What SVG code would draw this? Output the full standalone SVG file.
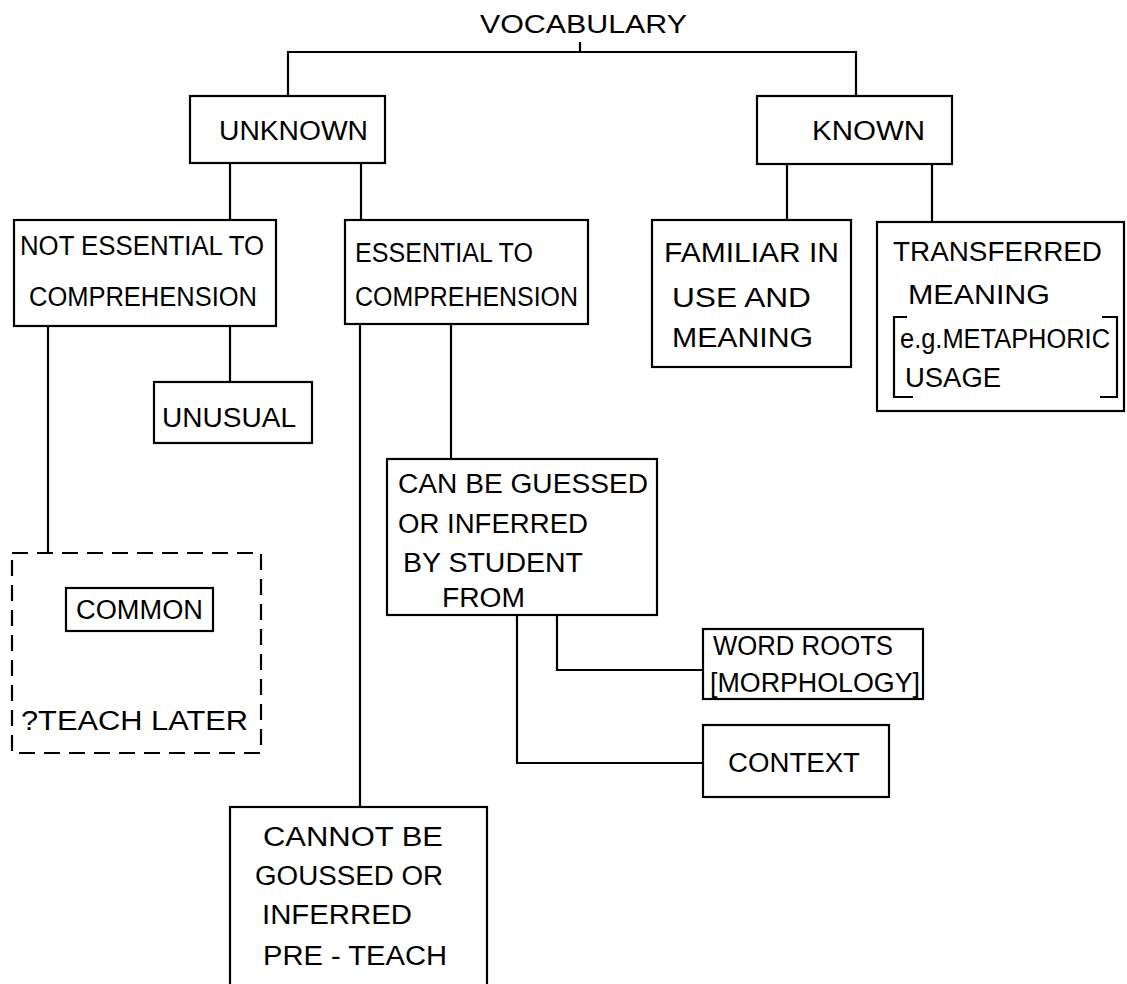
<svg xmlns="http://www.w3.org/2000/svg" width="1127" height="984" viewBox="0 0 1127 984">
<style>
  .bx{fill:none;stroke:#000;stroke-width:2.2}
  .dash{fill:none;stroke:#000;stroke-width:2.2;stroke-dasharray:16 9}
  .ln{fill:none;stroke:#000;stroke-width:2.2}
  text{font-family:"Liberation Sans",Arial,sans-serif;font-size:27px;fill:#000}
  .sm{font-size:25px}
</style>
<rect x="0" y="0" width="1127" height="984" fill="#fff"/>
<g id="connectors">
  <path class="ln" d="M580,42 V52"/>
  <path class="ln" d="M288,96 V52 H856 V96"/>
  <path class="ln" d="M230,163 V220"/>
  <path class="ln" d="M361,163 V220"/>
  <path class="ln" d="M787,164 V220"/>
  <path class="ln" d="M932,164 V222"/>
  <path class="ln" d="M48,326 V553"/>
  <path class="ln" d="M230,326 V382"/>
  <path class="ln" d="M360,324 V807"/>
  <path class="ln" d="M451,324 V459"/>
  <path class="ln" d="M517,615 V763 H703"/>
  <path class="ln" d="M557,615 V670 H703"/>
</g>
<g id="vocabulary">
  <text class="sm" x="480" y="33" textLength="207" lengthAdjust="spacingAndGlyphs">VOCABULARY</text>
</g>
<g id="unknown">
  <rect class="bx" x="190" y="96" width="195" height="67"/>
  <text x="219" y="140" textLength="149" lengthAdjust="spacingAndGlyphs">UNKNOWN</text>
</g>
<g id="known">
  <rect class="bx" x="757" y="96" width="195" height="68"/>
  <text x="812" y="140" textLength="113" lengthAdjust="spacingAndGlyphs">KNOWN</text>
</g>
<g id="not-essential">
  <rect class="bx" x="14" y="220" width="262" height="106"/>
  <text x="20" y="255" textLength="244" lengthAdjust="spacingAndGlyphs">NOT ESSENTIAL TO</text>
  <text x="29" y="306" textLength="228" lengthAdjust="spacingAndGlyphs">COMPREHENSION</text>
</g>
<g id="essential">
  <rect class="bx" x="345" y="220" width="243" height="104"/>
  <text x="355" y="262" textLength="178" lengthAdjust="spacingAndGlyphs">ESSENTIAL TO</text>
  <text x="355" y="306" textLength="223" lengthAdjust="spacingAndGlyphs">COMPREHENSION</text>
</g>
<g id="unusual">
  <rect class="bx" x="154" y="382" width="158" height="61"/>
  <text x="162" y="427" textLength="134" lengthAdjust="spacingAndGlyphs">UNUSUAL</text>
</g>
<g id="familiar">
  <rect class="bx" x="652" y="220" width="199" height="147"/>
  <text x="664" y="262" textLength="175" lengthAdjust="spacingAndGlyphs">FAMILIAR IN</text>
  <text x="672" y="307" textLength="139" lengthAdjust="spacingAndGlyphs">USE  AND</text>
  <text x="672" y="347" textLength="141" lengthAdjust="spacingAndGlyphs">MEANING</text>
</g>
<g id="transferred">
  <rect class="bx" x="877" y="222" width="247" height="189"/>
  <text x="893" y="261" textLength="209" lengthAdjust="spacingAndGlyphs">TRANSFERRED</text>
  <text x="908" y="304" textLength="142" lengthAdjust="spacingAndGlyphs">MEANING</text>
  <path class="ln" d="M907,317 H894 V397 H913"/>
  <path class="ln" d="M1102,317 H1117 V397 H1100"/>
  <text x="900" y="348" textLength="210" lengthAdjust="spacingAndGlyphs">e.g.METAPHORIC</text>
  <text x="905" y="387" textLength="96" lengthAdjust="spacingAndGlyphs">USAGE</text>
</g>
<g id="can-be-guessed">
  <rect class="bx" x="387" y="459" width="270" height="156"/>
  <text x="398" y="493" textLength="250" lengthAdjust="spacingAndGlyphs">CAN BE GUESSED</text>
  <text x="398" y="533" textLength="190" lengthAdjust="spacingAndGlyphs">OR INFERRED</text>
  <text x="403" y="572" textLength="180" lengthAdjust="spacingAndGlyphs">BY STUDENT</text>
  <text x="442" y="607" textLength="83" lengthAdjust="spacingAndGlyphs">FROM</text>
</g>
<g id="teach-later">
  <rect class="dash" x="12" y="553" width="249" height="200"/>
  <rect class="bx" x="66" y="588" width="147" height="43"/>
  <text x="76" y="619" textLength="127" lengthAdjust="spacingAndGlyphs">COMMON</text>
  <text x="21" y="730" textLength="227" lengthAdjust="spacingAndGlyphs">?TEACH  LATER</text>
</g>
<g id="word-roots">
  <rect class="bx" x="703" y="629" width="220" height="70"/>
  <text x="713" y="655" textLength="180" lengthAdjust="spacingAndGlyphs">WORD ROOTS</text>
  <text x="710" y="692" textLength="210" lengthAdjust="spacingAndGlyphs">[MORPHOLOGY]</text>
</g>
<g id="context">
  <rect class="bx" x="703" y="725" width="186" height="72"/>
  <text x="728" y="772" textLength="132" lengthAdjust="spacingAndGlyphs">CONTEXT</text>
</g>
<g id="cannot">
  <rect class="bx" x="230" y="807" width="257" height="200"/>
  <text x="263" y="846" textLength="180" lengthAdjust="spacingAndGlyphs">CANNOT  BE</text>
  <text x="255" y="885" textLength="188" lengthAdjust="spacingAndGlyphs">GOUSSED OR</text>
  <text x="262" y="924" textLength="150" lengthAdjust="spacingAndGlyphs">INFERRED</text>
  <text x="263" y="965" textLength="184" lengthAdjust="spacingAndGlyphs">PRE - TEACH</text>
</g>
</svg>
